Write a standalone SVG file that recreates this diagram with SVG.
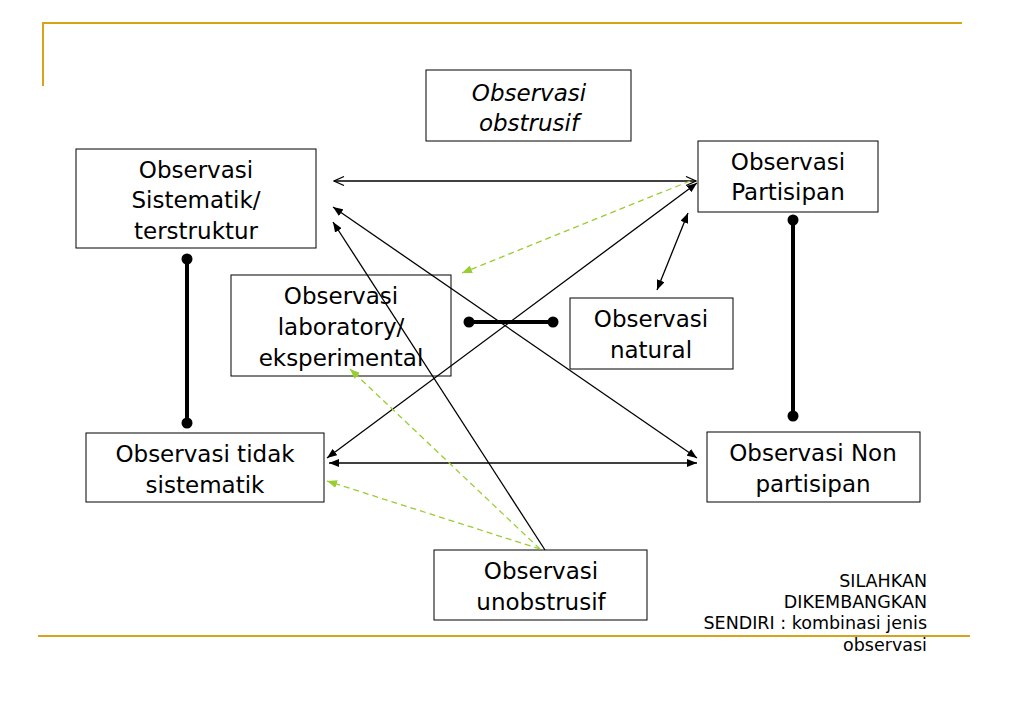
<svg xmlns="http://www.w3.org/2000/svg" width="1023" height="708" viewBox="0 0 1023 708">
<defs>
<marker id="ah" viewBox="0 0 10 8" refX="10" refY="4" markerWidth="10" markerHeight="8" markerUnits="userSpaceOnUse" orient="auto-start-reverse"><path d="M0,0 L10,4 L0,8 Z" fill="#000"/></marker>
<marker id="ao" viewBox="0 0 12 10" refX="11" refY="5" markerWidth="12" markerHeight="10" markerUnits="userSpaceOnUse" orient="auto-start-reverse"><path d="M1,0.5 L11,5 L1,9.5" fill="none" stroke="#000" stroke-width="1.2"/></marker>
<marker id="ag" viewBox="0 0 10 8" refX="10" refY="4" markerWidth="10" markerHeight="8" markerUnits="userSpaceOnUse" orient="auto"><path d="M0,0 L10,4 L0,8 Z" fill="#9ACD32"/></marker>
</defs>
<style>
.box{fill:#fff;stroke:#000;stroke-width:1}
.t{font-family:"DejaVu Sans","Noto Sans",sans-serif;font-size:23px;fill:#000;text-anchor:middle}
.i{font-style:italic}
.ln{stroke:#000;stroke-width:1.3;fill:none}
.gr{stroke:#9ACD32;stroke-width:1.3;stroke-dasharray:6,4;fill:none}
.thick{stroke:#000;stroke-width:4}
.gold{stroke:#D6A419;stroke-width:2;fill:none}
.note{font-family:"DejaVu Sans","Noto Sans",sans-serif;font-size:17.5px;fill:#000;text-anchor:end}
</style>
<g id="frame">
<line class="gold" x1="42" y1="23" x2="962" y2="23"/>
<line class="gold" x1="43" y1="23" x2="43" y2="86"/>
<line class="gold" x1="38" y1="636" x2="970" y2="636"/>
</g>
<g id="obstrusif">
<rect class="box" x="426" y="70" width="205" height="71"/>
<text class="t i" x="529" y="101">Observasi</text>
<text class="t i" x="529" y="131">obstrusif</text>
</g>
<g id="sistematik">
<rect class="box" x="76" y="149" width="240" height="99"/>
<text class="t" x="196" y="178">Observasi</text>
<text class="t" x="196" y="208">Sistematik/</text>
<text class="t" x="196" y="239">terstruktur</text>
</g>
<g id="partisipan">
<rect class="box" x="698" y="141" width="180" height="71"/>
<text class="t" x="788" y="170">Observasi</text>
<text class="t" x="788" y="200">Partisipan</text>
</g>
<g id="laboratory">
<rect class="box" x="231" y="275" width="220" height="101"/>
<text class="t" x="341" y="304">Observasi</text>
<text class="t" x="341" y="335">laboratory/</text>
<text class="t" x="341" y="366">eksperimental</text>
</g>
<g id="natural">
<rect class="box" x="570" y="298" width="163" height="71"/>
<text class="t" x="651" y="327">Observasi</text>
<text class="t" x="651" y="358">natural</text>
</g>
<g id="tidak">
<rect class="box" x="86" y="433" width="238" height="69"/>
<text class="t" x="205" y="462">Observasi tidak</text>
<text class="t" x="205" y="493">sistematik</text>
</g>
<g id="nonpartisipan">
<rect class="box" x="707" y="432" width="213" height="70"/>
<text class="t" x="813" y="461">Observasi Non</text>
<text class="t" x="813" y="492">partisipan</text>
</g>
<g id="unobstrusif">
<rect class="box" x="434" y="550" width="213" height="70"/>
<text class="t" x="541" y="579">Observasi</text>
<text class="t" x="541" y="610">unobstrusif</text>
</g>
<g id="connectors">
<line class="ln" x1="334" y1="181" x2="696" y2="181" marker-start="url(#ao)" marker-end="url(#ao)"/>
<line class="ln" x1="333" y1="207" x2="697" y2="458" marker-start="url(#ah)" marker-end="url(#ah)"/>
<line class="ln" x1="545" y1="550" x2="333" y2="222" marker-end="url(#ah)"/>
<line class="ln" x1="327" y1="458" x2="697" y2="183" marker-start="url(#ah)" marker-end="url(#ah)"/>
<line class="ln" x1="688" y1="213" x2="657" y2="290" marker-start="url(#ah)" marker-end="url(#ah)"/>
<line class="ln" x1="329" y1="463" x2="697" y2="463" marker-start="url(#ah)" marker-end="url(#ah)"/>
<line class="gr" x1="690" y1="181" x2="462" y2="273" marker-end="url(#ag)"/>
<line class="gr" x1="540" y1="549" x2="350" y2="369" marker-end="url(#ag)"/>
<line class="gr" x1="540" y1="549" x2="327" y2="481" marker-end="url(#ag)"/>
<g id="links">
<line class="thick" x1="187" y1="259" x2="187" y2="423"/>
<circle cx="187" cy="259" r="5.5"/><circle cx="187" cy="423" r="5.5"/>
<line class="thick" x1="793" y1="220" x2="793" y2="416"/>
<circle cx="793" cy="220" r="5.5"/><circle cx="793" cy="416" r="5.5"/>
<line class="thick" x1="469" y1="322" x2="553" y2="322"/>
<circle cx="469" cy="322" r="5.5"/><circle cx="553" cy="322" r="5.5"/>
</g>
</g>
<g id="note">
<text class="note" x="927" y="587">SILAHKAN</text>
<text class="note" x="927" y="608">DIKEMBANGKAN</text>
<text class="note" x="927" y="629">SENDIRI : kombinasi jenis</text>
<text class="note" x="927" y="651">observasi</text>
</g>
</svg>
